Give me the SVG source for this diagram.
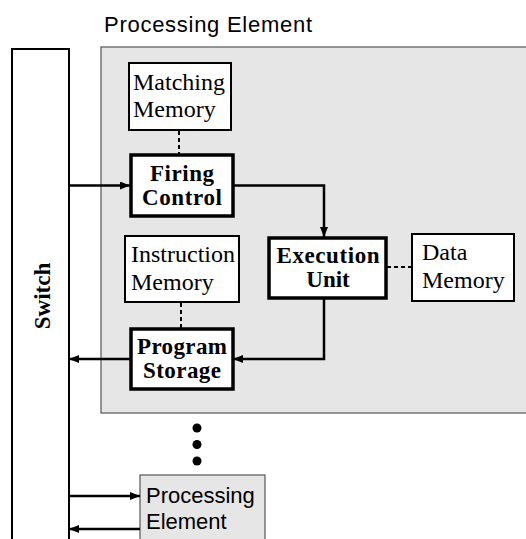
<svg xmlns="http://www.w3.org/2000/svg" width="526" height="539" viewBox="0 0 526 539">
  <style>
    .mem { fill: #ffffff; stroke: #000; stroke-width: 2; }
    .unit { fill: #ffffff; stroke: #000; stroke-width: 3.5; }
    .pe { fill: #e6e6e6; stroke: #555; stroke-width: 1.2; }
    .reg { font-family: "Liberation Serif", "Times New Roman", serif; font-size: 24px; fill: #000; }
    .bold { font-family: "Liberation Serif", "Times New Roman", serif; font-size: 23px; font-weight: bold; fill: #000; text-anchor: middle; }
    .sans { font-family: "Liberation Sans", Arial, sans-serif; font-size: 22px; fill: #000; }
    .flow { fill: none; stroke: #000; stroke-width: 2.5; }
    .link { fill: none; stroke: #000; stroke-width: 2; stroke-dasharray: 4 3; }
  </style>
  <defs>
    <marker id="head" markerWidth="10" markerHeight="8" refX="10" refY="4" orient="auto" markerUnits="userSpaceOnUse">
      <path d="M0,0 L10,4 L0,8 Z" fill="#000"/>
    </marker>
  </defs>

  <rect width="526" height="539" fill="#ffffff"/>

  <!-- Processing element frame -->
  <g id="pe-frame">
    <text class="sans" x="104" y="32" textLength="208">Processing Element</text>
    <rect class="pe" x="101" y="47" width="440" height="366"/>
  </g>

  <!-- Switch column -->
  <g id="switch">
    <rect x="12" y="49" width="57" height="510" fill="#ffffff" stroke="#000" stroke-width="2"/>
    <text class="bold" font-size="24" transform="translate(50,296) rotate(-90)" x="0" y="0">Switch</text>
  </g>

  <g id="matching-memory">
    <rect class="mem" x="129" y="63" width="102" height="67"/>
    <text class="reg" x="133" y="90">Matching</text>
    <text class="reg" x="133" y="117">Memory</text>
  </g>

  <g id="firing-control">
    <rect class="unit" x="131" y="155" width="102" height="61"/>
    <text class="bold" x="182" y="181" textLength="64">Firing</text>
    <text class="bold" x="182" y="205" textLength="80">Control</text>
  </g>

  <g id="instruction-memory">
    <rect class="mem" x="125" y="236" width="114" height="66"/>
    <text class="reg" x="131" y="262">Instruction</text>
    <text class="reg" x="131" y="290">Memory</text>
  </g>

  <g id="execution-unit">
    <rect class="unit" x="269" y="238" width="117" height="60"/>
    <text class="bold" x="328" y="263" textLength="103">Execution</text>
    <text class="bold" x="328" y="287">Unit</text>
  </g>

  <g id="data-memory">
    <rect class="mem" x="412" y="234" width="102" height="67"/>
    <text class="reg" x="422" y="260">Data</text>
    <text class="reg" x="422" y="288">Memory</text>
  </g>

  <g id="program-storage">
    <rect class="unit" x="131" y="329" width="102" height="60"/>
    <text class="bold" x="182" y="354" textLength="90">Program</text>
    <text class="bold" x="182" y="378" textLength="78">Storage</text>
  </g>

  <!-- continuation dots -->
  <g id="ellipsis" fill="#000">
    <circle cx="197" cy="428" r="4.5"/>
    <circle cx="197" cy="444.5" r="4.5"/>
    <circle cx="197" cy="461" r="4.5"/>
  </g>

  <g id="processing-element-n">
    <rect class="pe" x="140" y="475" width="125" height="80"/>
    <text class="sans" x="146" y="503">Processing</text>
    <text class="sans" x="146" y="529">Element</text>
  </g>

  <!-- connectors -->
  <g id="connectors">
    <line class="link" x1="179" y1="131" x2="179" y2="154"/>
    <line class="link" x1="181" y1="303" x2="181" y2="328"/>
    <line class="link" x1="387" y1="267" x2="411" y2="267"/>

    <path class="flow" d="M69,185.5 H130" marker-end="url(#head)"/>
    <path class="flow" d="M233,185.5 H324 V237" marker-end="url(#head)"/>
    <path class="flow" d="M324,299 V359 H233" marker-end="url(#head)"/>
    <path class="flow" d="M130,359 H69" marker-end="url(#head)"/>
    <path class="flow" d="M69,496 H140" marker-end="url(#head)"/>
    <path class="flow" d="M140,529 H69" marker-end="url(#head)"/>
  </g>
</svg>
